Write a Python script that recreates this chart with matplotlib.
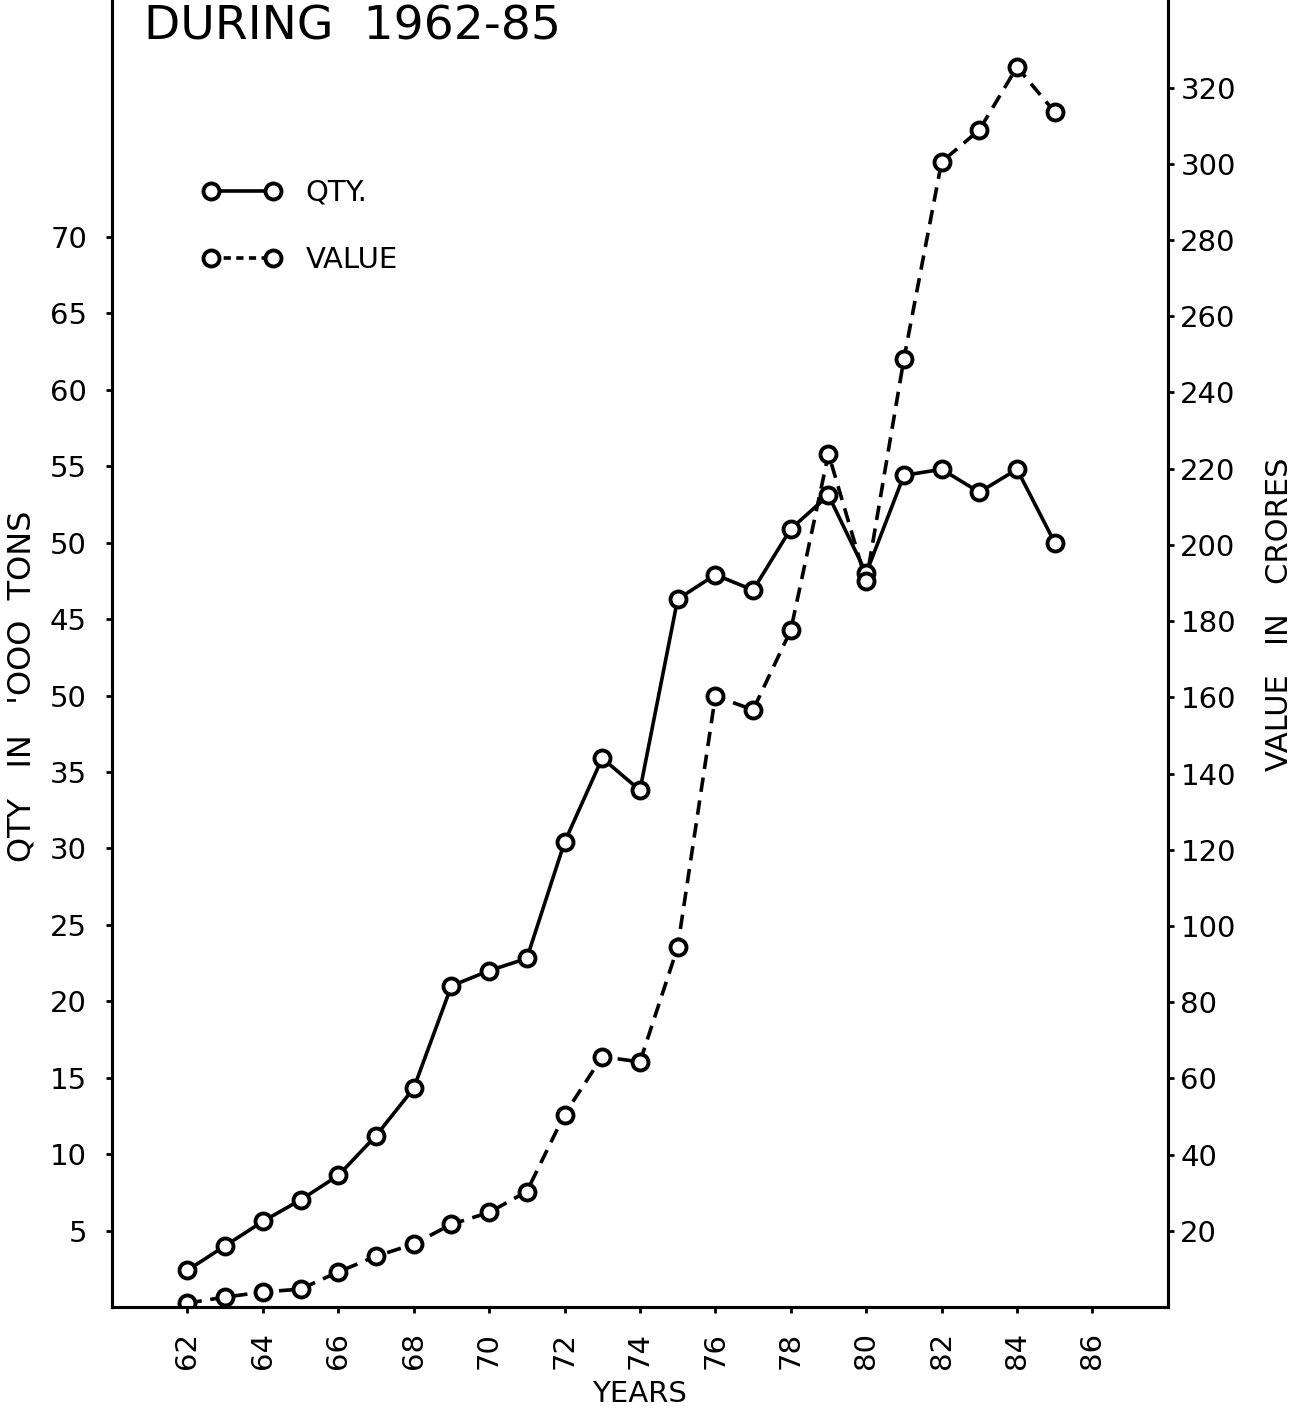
import numpy as np
import matplotlib
matplotlib.use("Agg")
import matplotlib.pyplot as plt
from matplotlib.lines import Line2D

# yearly figures, 1962-85
years = np.arange(62, 86)
qty = [2.4, 4.0, 5.6, 7.0, 8.6, 11.2, 14.3, 21.0, 22.0, 22.8, 30.4, 35.9,
       33.8, 46.3, 47.9, 46.9, 50.9, 53.1, 48.0, 54.4, 54.8, 53.3, 54.8, 50.0]
value = [1.0, 2.6, 3.9, 4.7, 9.2, 13.3, 16.5, 21.7, 24.8, 30.3, 50.5, 65.7,
         64.3, 94.4, 160.3, 156.7, 177.6, 223.9, 190.4, 248.8, 300.5, 308.9,
         325.4, 313.6]

qty_ticks = [5, 10, 15, 20, 25, 30, 35, 40, 45, 50, 55, 60, 65, 70]
qty_labels = ['5', '10', '15', '20', '25', '30', '35', '50', '45', '50',
              '55', '60', '65', '70']
value_ticks = list(range(20, 321, 20))
year_ticks = list(range(62, 87, 2))

plt.rcParams['font.family'] = ['DejaVu Sans']

fig = plt.figure(figsize=(13.1, 14.14), dpi=100)
ax = fig.add_axes([0.0855, 0.0757, 0.806, 0.9243])
ax2 = ax.twinx()

mk = dict(marker='o', markersize=11.5, markerfacecolor='white',
          markeredgecolor='black', markeredgewidth=2.8, color='black')
ax.plot(years, qty, linestyle='-', linewidth=2.6, **mk)
ax2.plot(years, value, linestyle=(0, (4.0, 2.4)), linewidth=2.6, **mk)

ax.set_xlim(60, 88)
ax.set_ylim(0, 85.5)
ax2.set_ylim(0, 343)

for a in (ax, ax2):
    a.spines['top'].set_visible(False)
    for s in a.spines.values():
        s.set_linewidth(2.2)

ax.set_xticks(year_ticks)
ax.set_xticklabels([str(y) for y in year_ticks], rotation=90, fontsize=21)
ax.set_yticks(qty_ticks)
ax.set_yticklabels(qty_labels, fontsize=21)
ax2.set_yticks(value_ticks)
ax2.set_yticklabels([str(v) for v in value_ticks], fontsize=21)

ax.tick_params(axis='x', length=4, width=2, pad=14)
ax.tick_params(axis='y', length=4, width=2, pad=14)
ax2.tick_params(axis='y', length=4, width=2, pad=5)

ax.set_ylabel("QTY   IN   'OOO  TONS", fontsize=23)
ax.yaxis.set_label_coords(-0.071, 0.475)
ax2.set_ylabel("VALUE   IN   CRORES", fontsize=22)
ax2.yaxis.set_label_coords(1.092, 0.53)
ax.set_xlabel("YEARS", fontsize=21)
ax.xaxis.set_label_coords(0.5, -0.056)

fig.text(0.11, 0.981, "DURING  1962-85", fontsize=34, va='center',
         ha='left', fontweight='medium')

handles = [Line2D([], [], linestyle='-', linewidth=2.6, **mk),
           Line2D([], [], linestyle=(0, (2.0, 1.5)), linewidth=2.6, **mk)]
ax.legend(handles, ['QTY.', 'VALUE'], loc='upper left',
          bbox_to_anchor=(0.074, 0.872), frameon=False, fontsize=21,
          numpoints=2, handlelength=2.75, handletextpad=0.8,
          labelspacing=1.35, borderaxespad=0)

fig.savefig('out.png', dpi=100)
